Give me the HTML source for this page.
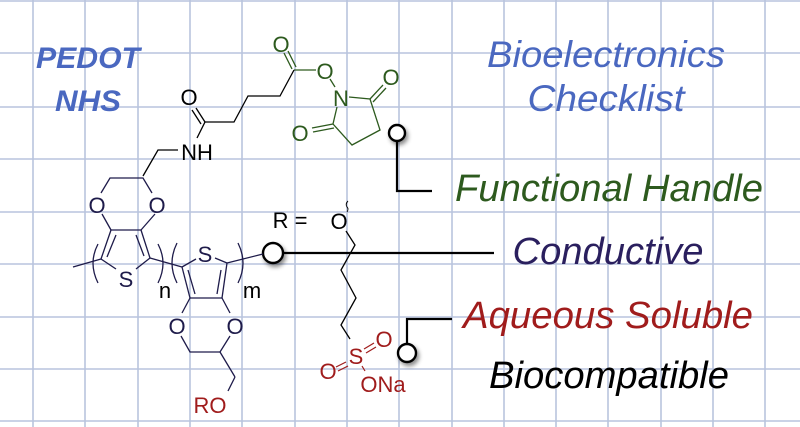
<!DOCTYPE html>
<html><head><meta charset="utf-8"><style>
html,body{margin:0;padding:0;background:#fff;}
svg{display:block;}
.c{font-family:"Liberation Sans",sans-serif;}
</style></head><body>
<svg width="800" height="427" viewBox="0 0 800 427" xmlns="http://www.w3.org/2000/svg">
<defs>
<filter id="sh" x="-50%" y="-50%" width="200%" height="200%"><feDropShadow dx="2" dy="3" stdDeviation="2" flood-color="#000" flood-opacity="0.45"/></filter>
</defs>
<rect width="800" height="427" fill="#fff"/>
<g stroke="#b9c4dd" stroke-width="1.6">
<line x1="33" y1="0" x2="33" y2="427"/><line x1="85" y1="0" x2="85" y2="427"/><line x1="138" y1="0" x2="138" y2="427"/><line x1="190" y1="0" x2="190" y2="427"/><line x1="242" y1="0" x2="242" y2="427"/><line x1="295" y1="0" x2="295" y2="427"/><line x1="347" y1="0" x2="347" y2="427"/><line x1="399" y1="0" x2="399" y2="427"/><line x1="452" y1="0" x2="452" y2="427"/><line x1="504" y1="0" x2="504" y2="427"/><line x1="556" y1="0" x2="556" y2="427"/><line x1="608" y1="0" x2="608" y2="427"/><line x1="661" y1="0" x2="661" y2="427"/><line x1="713" y1="0" x2="713" y2="427"/><line x1="765" y1="0" x2="765" y2="427"/>
<line x1="0" y1="1" x2="800" y2="1"/><line x1="0" y1="53" x2="800" y2="53"/><line x1="0" y1="107" x2="800" y2="107"/><line x1="0" y1="159" x2="800" y2="159"/><line x1="0" y1="212" x2="800" y2="212"/><line x1="0" y1="264" x2="800" y2="264"/><line x1="0" y1="317" x2="800" y2="317"/><line x1="0" y1="369" x2="800" y2="369"/><line x1="0" y1="421" x2="800" y2="421"/>
</g>
<g class="c" font-style="italic">
<text x="88" y="68" font-size="30" font-weight="bold" fill="#4a68c0" text-anchor="middle" textLength="104" lengthAdjust="spacingAndGlyphs">PEDOT</text>
<text x="88" y="111" font-size="30" font-weight="bold" fill="#4a68c0" text-anchor="middle" textLength="66" lengthAdjust="spacingAndGlyphs">NHS</text>
<text x="606" y="67" font-size="37" fill="#4a68c0" text-anchor="middle" textLength="238" lengthAdjust="spacingAndGlyphs">Bioelectronics</text>
<text x="606" y="111" font-size="37" fill="#4a68c0" text-anchor="middle" textLength="157" lengthAdjust="spacingAndGlyphs">Checklist</text>
<text x="609" y="201" font-size="38" fill="#2d5a1e" text-anchor="middle" textLength="308" lengthAdjust="spacingAndGlyphs">Functional Handle</text>
<text x="608" y="264" font-size="38" fill="#2a1f5e" text-anchor="middle" textLength="191" lengthAdjust="spacingAndGlyphs">Conductive</text>
<text x="608" y="328" font-size="38" fill="#a01c1c" text-anchor="middle" textLength="290" lengthAdjust="spacingAndGlyphs">Aqueous Soluble</text>
<text x="609" y="388" font-size="38" fill="#000" text-anchor="middle" textLength="240" lengthAdjust="spacingAndGlyphs">Biocompatible</text>
</g>
<line x1="476" y1="138" x2="739" y2="138" stroke="#666" stroke-width="1.2" filter="url(#sh)"/>
<g stroke="#000" stroke-width="2.2" fill="none">
<polyline points="397,141 397,191 432,191"/>
<line x1="283" y1="253" x2="494" y2="253"/>
<polyline points="407,344 407,319 452,319"/>
</g>
<g fill="#fff" stroke="#000" stroke-width="2.4" filter="url(#sh)">
<circle cx="397" cy="133" r="8"/>
<circle cx="273" cy="253" r="10"/>
<circle cx="407" cy="353" r="9"/>
</g>
<g stroke="#2d5a1e" stroke-width="1.3" fill="none">
<line x1="284" y1="53" x2="292" y2="69"/><line x1="288" y1="51" x2="296" y2="67"/>
<line x1="294" y1="70" x2="316" y2="70"/>
<line x1="330" y1="79" x2="335" y2="87"/>
<polyline points="349,97 370,99 380,130 352,145 333,124 337,107"/>
<line x1="370" y1="99" x2="383" y2="85"/><line x1="373" y1="102" x2="386" y2="88"/>
<line x1="333" y1="124" x2="312" y2="128"/><line x1="334" y1="128" x2="313" y2="132"/>
</g>
<g class="c" fill="#2d5a1e" font-size="22" text-anchor="middle">
<text x="281" y="52">O</text><text x="325" y="79">O</text><text x="341" y="106">N</text>
<text x="391" y="85">O</text><text x="300" y="141">O</text>
</g>
<g stroke="#000" stroke-width="1.3" fill="none">
<polyline points="294,70 280,96 248,96 234,122 205,122"/>
<line x1="205" y1="122" x2="196" y2="108"/><line x1="201" y1="124" x2="192" y2="110"/>
<line x1="205" y1="122" x2="197" y2="138"/>
<polyline points="178,150 158,150 143,176"/>
</g>
<g class="c" fill="#000" font-size="22" text-anchor="middle">
<text x="189" y="105">O</text><text x="197" y="160">NH</text>
</g>
<g stroke="#1e1b4a" stroke-width="1.3" fill="none">
<polyline points="101,193 110,178 143,178 152,193"/>
<line x1="102" y1="214" x2="111" y2="230"/><line x1="155" y1="214" x2="141" y2="230"/>
<line x1="111" y1="230" x2="141" y2="230"/>
<line x1="111" y1="230" x2="101" y2="259"/><line x1="116" y1="235" x2="107" y2="257"/>
<line x1="141" y1="230" x2="150" y2="258"/><line x1="136" y1="235" x2="144" y2="256"/>
<line x1="101" y1="259" x2="116" y2="269"/><line x1="150" y1="258" x2="136" y2="269"/>
<line x1="73" y1="267" x2="101" y2="259"/>
<line x1="150" y1="258" x2="182" y2="267"/>
<path d="M98,244 Q88,263 98,283"/><path d="M158,244 Q168,263 158,283"/>
<line x1="182" y1="267" x2="196" y2="259"/><line x1="227" y1="263" x2="215" y2="258"/>
<line x1="182" y1="267" x2="190" y2="298"/><line x1="188" y1="270" x2="195" y2="294"/>
<line x1="227" y1="263" x2="222" y2="298"/><line x1="221" y1="270" x2="217" y2="294"/>
<line x1="190" y1="298" x2="222" y2="298"/>
<line x1="190" y1="298" x2="182" y2="313"/><line x1="222" y1="298" x2="230" y2="313"/>
<polyline points="181,336 190,352 220,352 230,336"/>
<line x1="220" y1="352" x2="235" y2="377"/><line x1="235" y1="377" x2="228" y2="391"/>
<path d="M177,243 Q167,263 177,283"/><path d="M238,243 Q248,263 238,283"/>
<line x1="227" y1="263" x2="263" y2="254"/>
</g>
<g class="c" fill="#1e1b4a" font-size="22" text-anchor="middle">
<text x="97" y="213">O</text><text x="157" y="213">O</text>
<text x="126" y="287">S</text><text x="205" y="262">S</text>
<text x="177" y="334">O</text><text x="235" y="334">O</text>
</g>
<g class="c" fill="#000" font-size="22" text-anchor="middle">
<text x="165" y="298">n</text><text x="252" y="298">m</text>
<text x="290" y="228">R =</text><text x="339" y="229">O</text>
</g>
<text class="c" x="210" y="413" font-size="22" fill="#a01c1c" text-anchor="middle">RO</text>
<g stroke="#000" stroke-width="1.3" fill="none">
<polyline points="346,231 355,245 341,270 356,298 341,325 350,339"/>
<path d="M347,212 q2,-3 0,-5 q-2,-3 1,-6" stroke-width="0.9"/>
</g>
<g stroke="#a01c1c" stroke-width="1.2">
<line x1="364" y1="349" x2="374" y2="343"/><line x1="366" y1="353" x2="376" y2="347"/>
<line x1="346" y1="362" x2="336" y2="367"/><line x1="348" y1="366" x2="338" y2="371"/>
<line x1="362" y1="366" x2="365" y2="371"/>
</g>
<g class="c" fill="#a01c1c" font-size="22" text-anchor="middle">
<text x="356" y="364">S</text><text x="384" y="347">O</text><text x="328" y="379">O</text><text x="383" y="392">ONa</text>
</g>
</svg>
</body></html>
